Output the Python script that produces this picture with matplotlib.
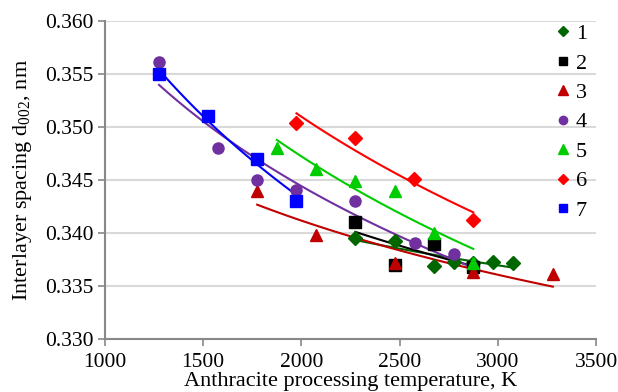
import numpy as np
import matplotlib.pyplot as plt

plt.rcParams['font.family'] = ['Liberation Serif', 'DejaVu Serif']
plt.rcParams['mathtext.fontset'] = 'custom'
plt.rcParams['mathtext.rm'] = 'Liberation Serif'

# temperatures (K) and interlayer spacing (nm) per sample series
t1 = [2275, 2475, 2675, 2775, 2875, 2975, 3075]
d1 = [0.3395, 0.3392, 0.3369, 0.3373, 0.3372, 0.3373, 0.3372]
t2 = [2275, 2475, 2675, 2875]
d2 = [0.3410, 0.3370, 0.3390, 0.3368]
t3 = [1775, 2075, 2475, 2875, 3280]
d3 = [0.3440, 0.3398, 0.3372, 0.3363, 0.3361]
t4 = [1275, 1575, 1775, 1975, 2275, 2580, 2775]
d4 = [0.3561, 0.3480, 0.3450, 0.3441, 0.3430, 0.3391, 0.3380]
t5 = [1875, 2075, 2275, 2475, 2675, 2875]
d5 = [0.3480, 0.3460, 0.3449, 0.3440, 0.3400, 0.3372]
t6 = [1975, 2275, 2575, 2875]
d6 = [0.3504, 0.3490, 0.3451, 0.3412]
t7 = [1275, 1525, 1775, 1975]
d7 = [0.3550, 0.3510, 0.3470, 0.3430]

# trendline ranges
fit_range = {
    '1': (2275, 3075), '2': (2275, 2875), '3': (1775, 3280), '4': (1275, 2875),
    '5': (1875, 2875), '6': (1975, 2875), '7': (1275, 1975),
}

series = [
    ('1', t1, d1, 'D', '#006600', 7),
    ('2', t2, d2, 's', 'black', 8),
    ('3', t3, d3, '^', '#C00000', 9),
    ('4', t4, d4, 'o', '#7030A0', 8),
    ('5', t5, d5, '^', '#00CC00', 9),
    ('6', t6, d6, 'D', '#FF0000', 7),
    ('7', t7, d7, 's', '#0000FF', 8),
]

fig = plt.figure(figsize=(6.18, 3.92), dpi=100)
ax = fig.add_axes([105/618, 1 - 339/392, (596 - 105)/618, (339 - 21)/392])

for name, t, d, mk, c, ms in series:
    t = np.array(t, float)
    d = np.array(d, float)
    # logarithmic trend, like the spreadsheet trendline
    b, a = np.polyfit(np.log(t), d, 1)
    lo, hi = fit_range[name]
    tt = np.linspace(lo, hi, 100)
    ax.plot(tt, a + b*np.log(tt), c=c, lw=1.5, zorder=2)
    ax.plot(t, d, ls='none', marker=mk, ms=ms, c=c, mec=c, label=name, zorder=3)

ax.set_xlim(1000, 3500)
ax.set_ylim(0.330, 0.360)
ax.set_xticks(np.arange(1000, 3501, 500))
ax.set_yticks(np.arange(0.330, 0.3601, 0.005))
ax.set_yticklabels(['%.3f' % v for v in np.arange(0.330, 0.3601, 0.005)])
ax.grid(axis='y', color='#d9d9d9', lw=1.5, zorder=0)
ax.set_axisbelow(True)

for s in ['top', 'right']:
    ax.spines[s].set_visible(False)
for s in ['left', 'bottom']:
    ax.spines[s].set_color('#888888')
    ax.spines[s].set_linewidth(1.5)
ax.tick_params(colors='#888888', width=1.2, length=5, direction='out',
               labelcolor='black', labelsize=15.5)
ax.tick_params(axis='x', pad=5)
ax.tick_params(axis='y', pad=3)

ax.set_xlabel('Anthracite processing temperature, K', fontsize=16, labelpad=0)
ax.set_ylabel('Interlayer spacing d$_{002}$, nm', fontsize=16, labelpad=8)

ax.legend(loc='upper right', frameon=False, fontsize=16, markerscale=0.75,
          handlelength=0.6, handletextpad=0.3, labelspacing=0.4,
          borderaxespad=0.0, bbox_to_anchor=(1.0, 1.02))

fig.savefig('out.png', dpi=100)
